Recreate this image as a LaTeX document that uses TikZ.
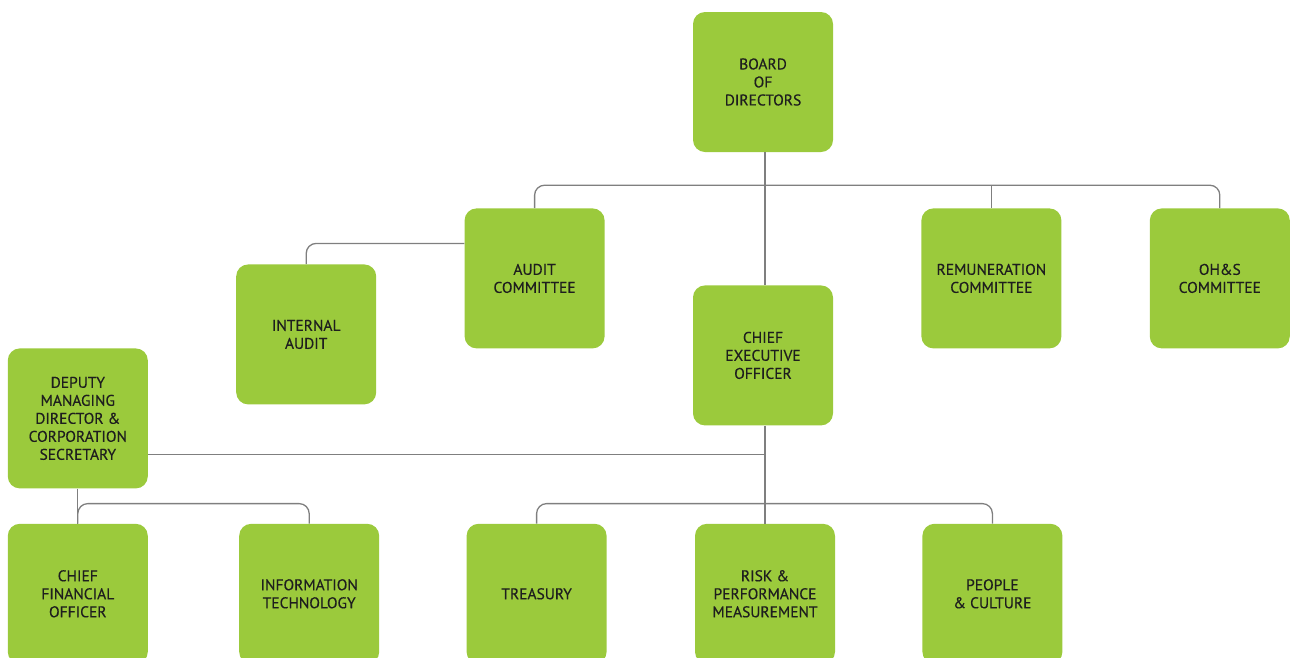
\documentclass[tikz,border=0pt]{standalone}
\usepackage{fontspec}
\setmainfont{PT Sans}[FakeBold=0.4]
\usetikzlibrary{
  positioning,
}
\definecolor{boxgreen}{HTML}{9BCA3C}
\definecolor{boxtext}{HTML}{1E1E1E}
\definecolor{linkgray}{HTML}{7F7F7F}
\tikzset{
  unit/.style={fill=boxgreen, rounded corners=12pt, minimum width=140pt,
    minimum height=140pt, inner sep=0pt, align=center, text=boxtext,
    font=\fontsize{15.5}{18}\selectfont},
  link/.style={draw=linkgray, line width=1.3pt, rounded corners=10pt},
}

\begin{document}
\begin{tikzpicture}
    \useasboundingbox (0,0) rectangle (1295pt,-657pt);
    \node [unit] (B) at (763pt,-82pt) {BOARD\\OF\\DIRECTORS};
    \node [unit, below=133pt of B] (CEO) {CHIEF\\EXECUTIVE\\OFFICER};
    \node [unit, below left =56pt and 88pt of B] (AC) {AUDIT\\COMMITTEE};
    \node [unit, below right=56pt and 88pt of B] (RC) {REMUNERATION\\COMMITTEE};
    \node [unit, right=88pt of RC] (OHS) {OH\&S\\COMMITTEE};
    \node [unit, left=88pt of AC, yshift=-56pt] (IA) {INTERNAL\\AUDIT};
    \node [unit, left=88pt of IA, yshift=-84pt] (DMD) {DEPUTY\\MANAGING\\DIRECTOR \&\\CORPORATION\\SECRETARY};
    \node [unit, below=98pt of CEO, xshift=2pt] (RPM) {RISK \&\\PERFORMANCE\\MEASUREMENT};
    \node [unit, left=88pt of RPM] (TR) {TREASURY};
    \node [unit, right=87pt of RPM] (PC) {PEOPLE\\\& CULTURE};
    \node [unit, below=35pt of DMD] (CFO) {CHIEF\\FINANCIAL\\OFFICER};
    \node [unit, right=91pt of CFO] (IT) {INFORMATION\\TECHNOLOGY};
    \coordinate [below=33pt of B.south] (top);
    \coordinate [below=29pt of CEO.south] (mid);
    \coordinate [above=20pt of RPM.north] (low);
    \draw [link] (RPM.north |- B.south) to (RPM.north |- CEO.north);
    \draw [link] (AC.north) |- (top) -| (OHS.north);
    \draw [link] (RC.north) to (RC.north |- top);
    \draw [link] (IA.north) |- ([yshift=35pt]AC.west);
    \draw [link] (RPM.north |- CEO.south) to (RPM.north);
    \draw [link] (DMD.east |- mid) to (RPM.north |- mid);
    \draw [link] (TR.north) |- (low) -| (PC.north);
    \draw [link] (DMD) to (CFO);
    \draw [link] (CFO.north) |- (IT.north |- low) -- (IT.north);
  \end{tikzpicture}
\end{document}
